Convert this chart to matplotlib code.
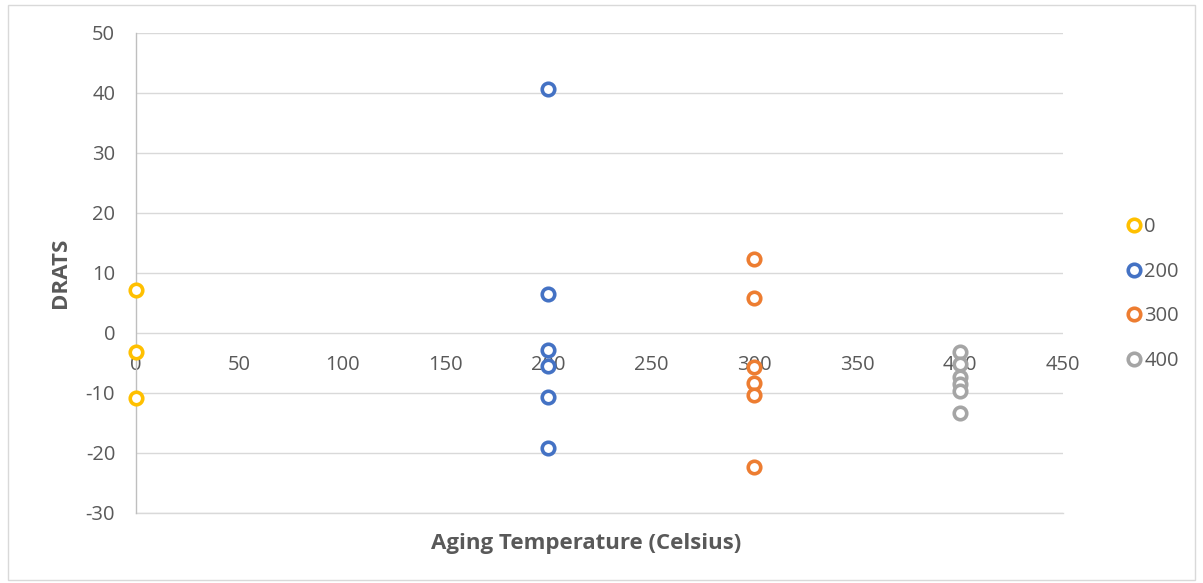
import matplotlib
matplotlib.use("Agg")
import matplotlib.pyplot as plt
from matplotlib.patches import Rectangle
from matplotlib.lines import Line2D

series_names = ["0", "200", "300", "400"]
x_values = [0, 200, 300, 400]
y_0 = [7.2, -3.2, -10.8]
y_200 = [40.7, 6.5, -2.8, -5.5, -10.7, -19.2]
y_300 = [12.4, 5.9, -5.6, -8.4, -10.3, -22.3]
y_400 = [-3.2, -5.2, -7.3, -8.5, -9.6, -13.4]
colors = ["#FFC000", "#4472C4", "#ED7D31", "#A5A5A5"]
x_ticks = [0, 50, 100, 150, 200, 250, 300, 350, 400, 450]
y_ticks = [-30, -20, -10, 0, 10, 20, 30, 40, 50]

plt.rcParams['font.family'] = ['Open Sans', 'DejaVu Sans']
plt.rcParams['axes.unicode_minus'] = False

W, H = 1203, 583
fig = plt.figure(figsize=(W / 100, H / 100), dpi=100)
L, R, T, B = 136, 1063, 33, 513
ax = fig.add_axes([L / W, 1 - B / H, (R - L) / W, (B - T) / H])

all_y = [y_0, y_200, y_300, y_400]
for xv, ys, c, name in zip(x_values, all_y, colors, series_names):
    ax.plot([xv] * len(ys), ys, linestyle='none', marker='o', markersize=9,
            markerfacecolor='white', markeredgecolor=c, markeredgewidth=2.6,
            label=name, zorder=3, clip_on=False)

ax.set_xlim(0, 450)
ax.set_ylim(-30, 50)
ax.set_xticks(x_ticks)
ax.set_yticks(y_ticks)
ax.grid(axis='y', color='#D9D9D9', linewidth=1.0)
ax.axhline(-30, color='#D9D9D9', linewidth=1.0, clip_on=False, zorder=0.5)
ax.set_axisbelow(True)
for s in ['top', 'right', 'bottom']:
    ax.spines[s].set_visible(False)
ax.spines['left'].set_color('#BFBFBF')
ax.spines['left'].set_linewidth(1.0)
ax.spines['bottom'].set_position(('data', 0))
ax.tick_params(axis='x', length=0, pad=16, labelsize=14.5, labelcolor='#595959')
ax.tick_params(axis='y', length=0, pad=15, labelsize=14.5, labelcolor='#595959')

fig.text(586 / W, 1 - 543 / H, "Aging Temperature (Celsius)", ha='center', va='center',
         fontsize=16, fontweight='bold', color='#595959')
fig.text(60 / W, 1 - 273 / H, "DRATS", ha='center', va='center', rotation=90,
         fontsize=16, fontweight='bold', color='#595959')

handles = [Line2D([0], [0], linestyle='none', marker='o', markersize=9,
                  markerfacecolor='white', markeredgecolor=c, markeredgewidth=2.6)
           for c in colors]
leg = fig.legend(handles, series_names, loc='upper left',
                 bbox_to_anchor=(1119 / W, 1 - 209 / H), frameon=False,
                 fontsize=14.5, labelcolor='#595959', handlelength=0.7,
                 handletextpad=0.15, labelspacing=1.22, borderaxespad=0)

fig.patches.append(Rectangle((8 / W, 3 / H), (1195 - 8) / W, (578 - 3) / H,
                             transform=fig.transFigure, fill=False,
                             edgecolor='#D9D9D9', linewidth=1.0))

fig.savefig("out.png", dpi=100)
